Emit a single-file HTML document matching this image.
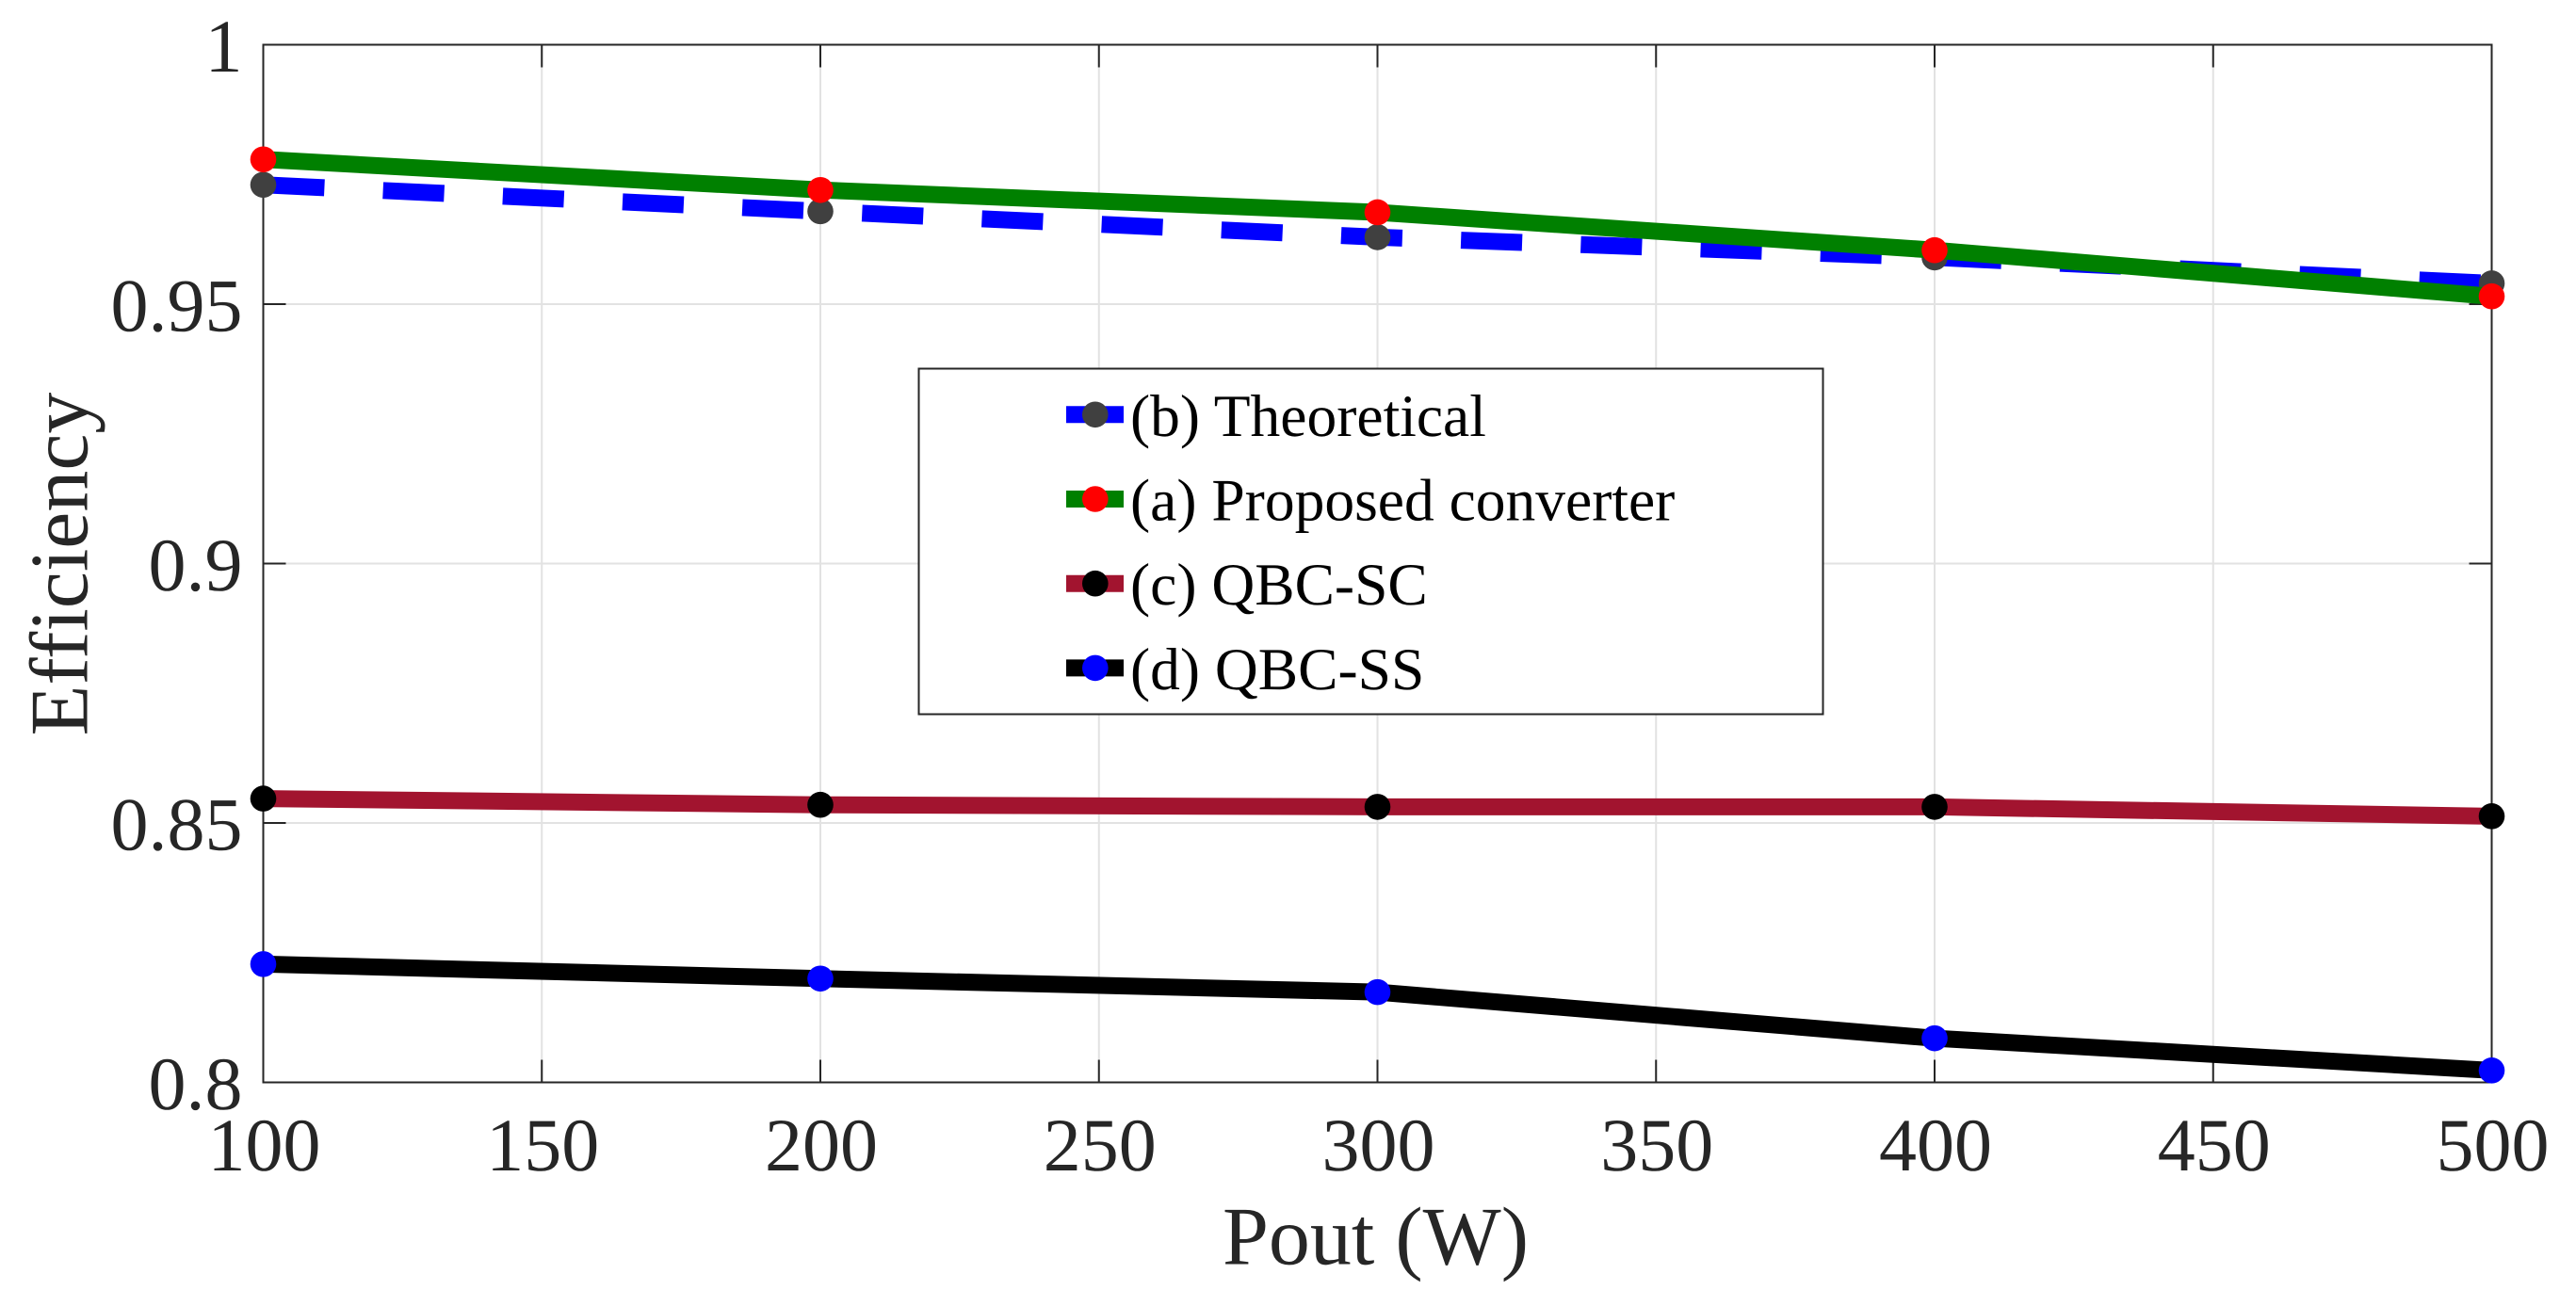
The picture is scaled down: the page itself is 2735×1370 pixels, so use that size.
<!DOCTYPE html>
<html lang="en">
<head>
<meta charset="utf-8">
<title>Efficiency vs Pout</title>
<style>
html,body{margin:0;padding:0;background:#fff;width:2735px;height:1370px;overflow:hidden}
svg{display:block}
text{font-family:"Liberation Serif","Times New Roman",serif;text-rendering:geometricPrecision}
</style>
</head>
<body>
<svg id="chart" xmlns="http://www.w3.org/2000/svg" width="2735" height="1370" viewBox="0 0 2735 1370">
  <rect x="0" y="0" width="2735" height="1370" fill="#ffffff"/>
  <g id="grid"></g>
  <g id="frame"></g>
  <g id="xlabels"></g>
  <g id="ylabels"></g>
  <g id="series"></g>
  <text x="1460.5" y="1342.5" text-anchor="middle" font-size="88" fill="#262626">Pout (W)</text>
  <text transform="translate(92.5 599) rotate(-90)" text-anchor="middle" font-size="88" fill="#262626">Efficiency</text>
  <g id="legend"></g>
</svg>
<script>
var categories = [100, 200, 300, 400, 500];
var theoretical = [0.9730, 0.9679, 0.9629, 0.9590, 0.9540];
var proposed = [0.9779, 0.9720, 0.9677, 0.9604, 0.9515];
var qbcSc = [0.8547, 0.8535, 0.8531, 0.8531, 0.8513];
var qbcSs = [0.8228, 0.8200, 0.8174, 0.8085, 0.8023];
var xTicks = [100, 150, 200, 250, 300, 350, 400, 450, 500];
var yTicks = [0.8, 0.85, 0.9, 0.95, 1];
var yTickLabels = ["0.8", "0.85", "0.9", "0.95", "1"];
var seriesNames = ["(b) Theoretical", "(a) Proposed converter", "(c) QBC-SC", "(d) QBC-SS"];

var NS = "http://www.w3.org/2000/svg";
var L = 279.5, R = 2645.5, T = 47.5, B = 1149.5;
function X(v) { return L + (v - 100) / 400 * (R - L); }
function Y(v) { return B - (v - 0.8) / 0.2 * (B - T); }
function make(tag, attrs, parent) {
  var el = document.createElementNS(NS, tag);
  for (var k in attrs) el.setAttribute(k, attrs[k]);
  parent.appendChild(el);
  return el;
}

var grid = document.getElementById("grid");
var frame = document.getElementById("frame");
var xlabels = document.getElementById("xlabels");
var ylabels = document.getElementById("ylabels");
var TICK = 24;

xTicks.forEach(function (t) {
  var x = X(t);
  if (t !== 100 && t !== 500) {
    var g = make("line", {x1: x, x2: x, y1: T, y2: B, stroke: "#e2e2e2", "stroke-width": 2}, grid);
    
    
  }
  var a = make("line", {x1: x, x2: x, y1: B, y2: B - TICK, stroke: "#262626", "stroke-width": 2}, frame);
  
  
  var b = make("line", {x1: x, x2: x, y1: T, y2: T + TICK, stroke: "#262626", "stroke-width": 2}, frame);
  
  
  var lab = make("text", {x: x + 1, y: 1243, "text-anchor": "middle", "font-size": 80, fill: "#262626"}, xlabels);
  
  
  lab.textContent = String(t);
});

yTicks.forEach(function (t, i) {
  var y = Y(t);
  if (t !== 0.8 && t !== 1) {
    var g = make("line", {x1: L, x2: R, y1: y, y2: y, stroke: "#e2e2e2", "stroke-width": 2}, grid);
    
    
  }
  var a = make("line", {x1: L, x2: L + TICK, y1: y, y2: y, stroke: "#262626", "stroke-width": 2}, frame);
  
  
  var b = make("line", {x1: R, x2: R - TICK, y1: y, y2: y, stroke: "#262626", "stroke-width": 2}, frame);
  
  
  var lab = make("text", {x: 257.5, y: y + 28.5, "text-anchor": "end", "font-size": 80, fill: "#262626"}, ylabels);
  
  
  lab.textContent = yTickLabels[i];
});

var box = make("rect", {x: L, y: T, width: R - L, height: B - T, fill: "none", stroke: "#262626", "stroke-width": 2}, frame);



var seriesGroup = document.getElementById("series");
function drawSeries(values, color, markerColor, dash) {
  var pts = values.map(function (v, i) { return X(categories[i]) + "," + Y(v); }).join(" ");
  var attrs = {points: pts, fill: "none", stroke: color, "stroke-width": 18, "stroke-linejoin": "miter", "stroke-linecap": "butt"};
  if (dash) attrs["stroke-dasharray"] = "65 62.3";
  var line = make("polyline", attrs, seriesGroup);
  
  
  values.forEach(function (v, i) {
    var c = make("circle", {cx: X(categories[i]), cy: Y(v), r: 13.8, fill: markerColor}, seriesGroup);
    
    
  });
}
drawSeries(theoretical, "#0000ff", "#404040", true);
drawSeries(proposed, "#008000", "#ff0000", false);
drawSeries(qbcSc, "#a2142f", "#000000", false);
drawSeries(qbcSs, "#000000", "#0000ff", false);

var legend = document.getElementById("legend");
var lbox = make("rect", {x: 975.5, y: 391.5, width: 960, height: 367, fill: "#ffffff", stroke: "#262626", "stroke-width": 2}, legend);


var legendLine = ["#0000ff", "#008000", "#a2142f", "#000000"];
var legendMark = ["#404040", "#ff0000", "#000000", "#0000ff"];
seriesNames.forEach(function (name, i) {
  var cy = 440.3 + i * 89.7;
  var sw = make("line", {x1: 1132, x2: 1193, y1: cy, y2: cy, stroke: legendLine[i], "stroke-width": 18}, legend);
  
  
  var m = make("circle", {cx: 1162.8, cy: cy, r: 13.8, fill: legendMark[i]}, legend);
  
  
  var t = make("text", {x: 1200, y: cy + 22.5, "font-size": 63.5, fill: "#000000"}, legend);
  
  
  t.textContent = name;
});
</script>
</body>
</html>
